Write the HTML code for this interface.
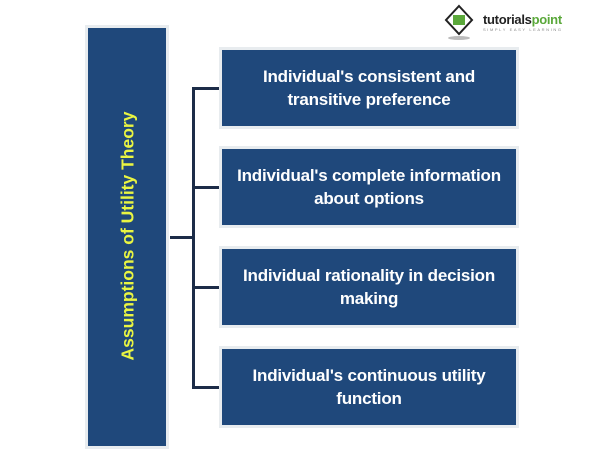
<!DOCTYPE html>
<html><head><style>
body{margin:0;width:600px;height:451px;background:#fff;position:relative;overflow:hidden;font-family:"Liberation Sans",sans-serif}
.b{position:absolute;left:222px;width:294px;height:76px;background:#1f487b;color:#fff;font-weight:bold;font-size:17px;line-height:23px;display:flex;align-items:center;justify-content:center;text-align:center;box-shadow:0 0 0 3px #e8ecef;letter-spacing:-0.2px}
.l{position:absolute;background:#1c2c48}
</style></head><body>
<div style="position:absolute;left:88px;top:28px;width:78px;height:418px;background:#1f487b;box-shadow:0 0 0 3px #e8ecef"></div>
<div style="position:absolute;left:128px;top:236px;transform:translate(-50%,-50%) rotate(-90deg);white-space:nowrap;color:#e9f542;font-weight:bold;font-size:17.5px">Assumptions of Utility Theory</div>
<div class="l" style="left:170px;top:236px;width:24px;height:3px"></div>
<div class="l" style="left:192px;top:87px;width:3px;height:302px"></div>
<div class="l" style="left:192px;top:87px;width:30px;height:3px"></div>
<div class="l" style="left:192px;top:186px;width:30px;height:3px"></div>
<div class="l" style="left:192px;top:286px;width:30px;height:3px"></div>
<div class="l" style="left:192px;top:386px;width:30px;height:3px"></div>
<div class="b" style="top:50px">Individual's consistent and<br>transitive preference</div>
<div class="b" style="top:149px">Individual's complete information<br>about options</div>
<div class="b" style="top:249px">Individual rationality in decision<br>making</div>
<div class="b" style="top:349px">Individual's continuous utility<br>function</div>
<svg style="position:absolute;left:444px;top:4px" width="30" height="38"><polygon points="15,2 28,16 15,30 2,16" fill="#fff" stroke="#222" stroke-width="2"/><rect x="9" y="11" width="12" height="10" fill="#5aa83a"/><ellipse cx="15" cy="34" rx="11" ry="2" fill="#bbb"/></svg>
<div style="position:absolute;left:483px;top:12px;font-weight:bold;font-size:13px;color:#222;letter-spacing:-0.3px">tutorials<span style="color:#5aa83a">point</span></div>
<div style="position:absolute;left:483px;top:27px;font-size:4px;color:#888;letter-spacing:1.6px">SIMPLY EASY LEARNING</div>
</body></html>
